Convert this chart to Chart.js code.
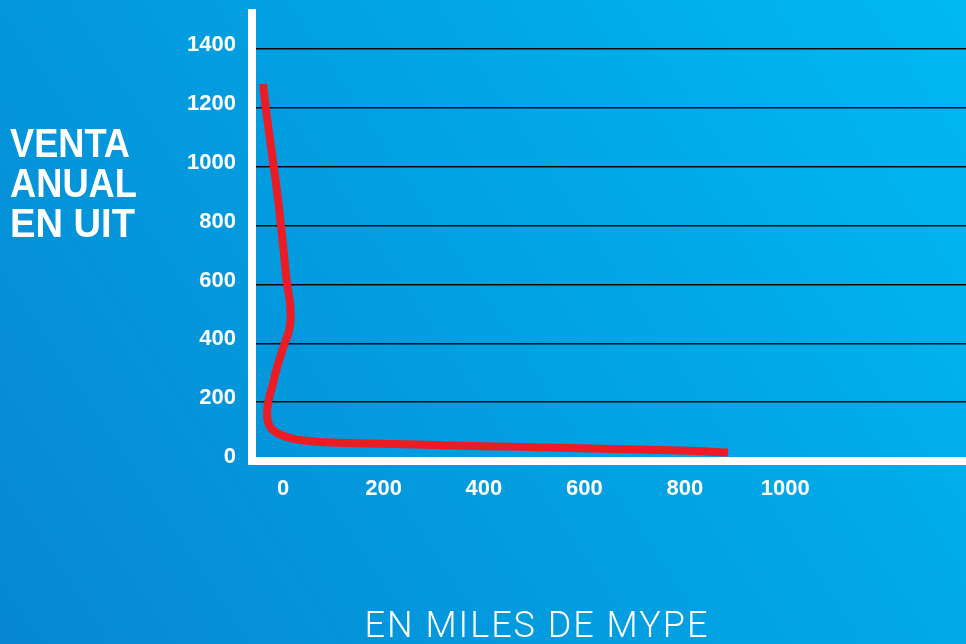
<!DOCTYPE html>
<html>
<head>
<meta charset="utf-8">
<script src="https://cdn.jsdelivr.net/npm/chart.js@4/dist/chart.umd.min.js"></script>
<style>
  html, body { margin: 0; padding: 0; background: #0098dc; }
  #wrap { position: relative; width: 966px; height: 644px; }
  canvas { display: block; }
</style>
</head>
<body>
<div id="wrap"><canvas id="c" width="966" height="644"></canvas></div>
<script>
// ---- Data ----
const mypeThousands = [-40, -34, -26, -18, -10, -4, 2, 8, 13, 15, 12, 2, -12, -20, -30, -32, -26, -12, 14, 60, 127, 193, 333, 472, 631, 791, 886];
const annualSalesUIT = [1281, 1193, 1091, 992, 887, 795, 697, 598, 547, 489, 445, 394, 319, 265, 197, 150, 116, 95, 78, 66, 61, 59, 53, 48, 42, 36, 29];
const xTickValues = [0, 200, 400, 600, 800, 1000];
const yTickValues = [0, 200, 400, 600, 800, 1000, 1200, 1400];
const yTitleLines = ['VENTA', 'ANUAL', 'EN UIT'];
const xTitle = 'EN MILES DE MYPE';

const points = mypeThousands.map((x, i) => ({ x: x, y: annualSalesUIT[i] }));

const bgPlugin = {
  id: 'bg',
  beforeDraw(chart) {
    const ctx = chart.ctx;
    const w = chart.width, h = chart.height;
    const g = ctx.createLinearGradient(0, h, w, 0);
    g.addColorStop(0, '#0787d1');
    g.addColorStop(0.5, '#02a0e2');
    g.addColorStop(1, '#00b9f2');
    ctx.save();
    ctx.fillStyle = g;
    ctx.fillRect(0, 0, w, h);
    ctx.restore();
  }
};

const axesPlugin = {
  id: 'whiteAxes',
  beforeDatasetsDraw(chart) {
    const ctx = chart.ctx;
    const a = chart.chartArea;
    ctx.save();
    ctx.fillStyle = '#ffffff';
    ctx.fillRect(a.left - 4, a.top, 8, a.bottom - a.top + 4);
    ctx.fillRect(a.left - 4, a.bottom - 4, a.right - a.left + 4, 8);
    ctx.restore();
  }
};

const titlesPlugin = {
  id: 'titles',
  afterDraw(chart) {
    const ctx = chart.ctx;
    ctx.save();
    ctx.fillStyle = '#ffffff';
    ctx.textAlign = 'left';
    ctx.textBaseline = 'alphabetic';
    ctx.font = 'bold 40px "Liberation Sans", Arial, sans-serif';
    const widths = [120, 127, 125];
    yTitleLines.forEach((t, i) => {
      ctx.fillText(t, 10, 157 + i * 40, widths[i]);
    });
    ctx.font = '300 36px Roboto, "Liberation Sans", sans-serif';
    ctx.letterSpacing = '2px';
    ctx.textAlign = 'center';
    ctx.fillText(xTitle, 537, 637);
    ctx.restore();
  }
};

function noPad(scale) {
  scale.paddingTop = 0;
  scale.paddingBottom = 0;
  scale.paddingLeft = 0;
  scale.paddingRight = 0;
}

new Chart(document.getElementById('c'), {
  type: 'line',
  data: {
    datasets: [{
      data: points,
      borderColor: '#ec1c24',
      borderWidth: 8,
      borderCapStyle: 'butt',
      borderJoinStyle: 'round',
      tension: 0.4,
      pointRadius: 0,
      fill: false
    }]
  },
  options: {
    responsive: false,
    animation: false,
    devicePixelRatio: 1,
    layout: { autoPadding: false, padding: { top: 9, left: 0, right: 0, bottom: 0 } },
    plugins: { legend: { display: false }, tooltip: { enabled: false } },
    scales: {
      x: {
        type: 'linear',
        min: -62,
        max: 1360,
        afterBuildTicks(scale) { scale.ticks = xTickValues.map(v => ({ value: v })); },
        afterFit(scale) { scale.height = 183; noPad(scale); },
        grid: { display: false, drawTicks: false },
        border: { display: false },
        ticks: {
          color: '#ffffff',
          padding: 15,
          maxRotation: 0,
          callback: (v) => String(v),
          font: { family: '"Liberation Sans", Arial, sans-serif', size: 22, weight: 'bold' }
        }
      },
      y: {
        type: 'linear',
        min: 0,
        max: 1536,
        afterBuildTicks(scale) { scale.ticks = yTickValues.map(v => ({ value: v })); },
        afterFit(scale) { scale.width = 252; noPad(scale); },
        grid: {
          drawTicks: false,
          color: (c) => c.tick && c.tick.value === 0 ? 'rgba(0,0,0,0)' : '#0a0a0a',
          lineWidth: 1.5
        },
        border: { display: false },
        ticks: {
          color: '#ffffff',
          padding: 16,
          labelOffset: -4,
          callback: (v) => String(v),
          font: { family: '"Liberation Sans", Arial, sans-serif', size: 22, weight: 'bold' }
        }
      }
    }
  },
  plugins: [bgPlugin, axesPlugin, titlesPlugin]
});
</script>
</body>
</html>
